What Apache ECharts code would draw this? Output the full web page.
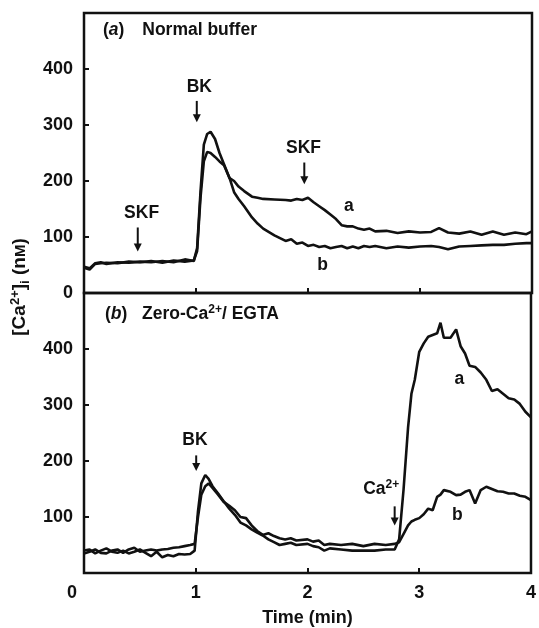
<!DOCTYPE html>
<html>
<head>
<meta charset="utf-8">
<script src="https://cdn.jsdelivr.net/npm/echarts@6/dist/echarts.min.js"></script>
<style>
  html, body { margin: 0; padding: 0; background: #fff; }
  #c { width: 539px; height: 628px; }
</style>
</head>
<body>
<div id="c"></div>
<script>
// ---------- DATA ----------
// Panel (a): Normal buffer
const topTimes = [0, 0.05, 0.1, 0.15, 0.2, 0.3, 0.4, 0.5, 0.6, 0.7, 0.8, 0.9, 0.98, 1.01, 1.04, 1.07, 1.1, 1.13, 1.17, 1.21, 1.25, 1.3, 1.34, 1.38, 1.43, 1.5, 1.55, 1.6, 1.7, 1.8, 1.85, 1.9, 1.95, 2.0, 2.05, 2.1, 2.15, 2.2, 2.25, 2.3, 2.35, 2.4, 2.45, 2.5, 2.55, 2.6, 2.7, 2.8, 2.9, 3.0, 3.1, 3.17, 3.25, 3.35, 3.45, 3.55, 3.65, 3.75, 3.85, 3.95, 4.0];
const topA = [45, 42, 52, 53, 54, 53, 56, 55, 57, 54, 58, 56, 58, 75, 170, 235, 252, 250, 243, 235, 228, 205, 200, 190, 182, 172, 170, 168, 167, 166, 165, 168, 166, 170, 162, 155, 148, 140, 132, 121, 119, 119, 115, 113, 115, 110, 111, 107, 110, 108, 109, 116, 108, 106, 110, 104, 110, 104, 108, 105, 110];
const topB = [47, 44, 53, 55, 52, 55, 54, 56, 55, 57, 55, 60, 57, 80, 180, 265, 284, 288, 275, 250, 230, 205, 180, 168, 155, 135, 124, 115, 103, 93, 96, 88, 90, 84, 86, 82, 84, 80, 82, 84, 80, 83, 80, 84, 82, 84, 80, 83, 81, 83, 84, 82, 78, 83, 84, 85, 86, 86, 88, 89, 89];

// Panel (b): Zero-Ca2+/EGTA
const botTimes = [0, 0.05, 0.1, 0.15, 0.2, 0.25, 0.3, 0.35, 0.4, 0.45, 0.5, 0.55, 0.6, 0.65, 0.7, 0.75, 0.8, 0.85, 0.9, 0.95, 0.99, 1.02, 1.05, 1.085, 1.115, 1.15, 1.2, 1.25, 1.3, 1.35, 1.4, 1.45, 1.5, 1.55, 1.6, 1.65, 1.7, 1.75, 1.8, 1.85, 1.9, 2.0, 2.05, 2.1, 2.15, 2.2, 2.3, 2.4, 2.5, 2.6, 2.7, 2.78, 2.82, 2.86, 2.9, 2.93, 2.96, 3.0, 3.04, 3.08, 3.12, 3.16, 3.19, 3.22, 3.28, 3.33, 3.37, 3.41, 3.45, 3.5, 3.55, 3.6, 3.65, 3.7, 3.75, 3.8, 3.85, 3.9, 3.95, 4.0];
const botA = [40, 42, 35, 40, 44, 38, 36, 40, 35, 38, 42, 36, 30, 38, 28, 32, 30, 34, 33, 34, 40, 110, 160, 175, 168, 155, 142, 128, 115, 104, 90, 85, 78, 72, 67, 60, 55, 50, 52, 54, 50, 52, 48, 46, 40, 44, 42, 40, 40, 40, 42, 42, 60, 150, 260, 320, 345, 395, 410, 422, 425, 428, 447, 420, 420, 435, 405, 392, 370, 368, 358, 345, 325, 328, 320, 312, 310, 302, 288, 278];
const botB = [35, 38, 42, 36, 35, 40, 42, 36, 42, 45, 38, 40, 42, 40, 42, 43, 45, 46, 48, 50, 52, 100, 140, 155, 160, 152, 140, 127, 120, 112, 100, 98, 85, 75, 68, 71, 66, 62, 60, 62, 58, 60, 56, 58, 50, 52, 50, 52, 48, 52, 50, 52, 55, 70, 85, 92, 95, 98, 105, 115, 112, 136, 140, 148, 145, 139, 140, 145, 148, 124, 148, 154, 150, 146, 145, 142, 142, 138, 136, 130];

const xTicks = [0, 1, 2, 3, 4];
const yTicks = [0, 100, 200, 300, 400];

// ---------- CHART ----------
const FONT = "'Liberation Sans', Arial, Helvetica, sans-serif";
const INK = '#111';
const zip = (t, v) => t.map((x, i) => [x, v[i]]);

const chart = echarts.init(document.getElementById('c'), null, { renderer: 'canvas' });

function xAxisCfg(grid, showLabels) {
  return {
    gridIndex: grid, type: 'value', min: 0, max: 4, interval: 1,
    axisLine: { show: false },
    axisTick: { show: true, inside: true, length: 5, lineStyle: { color: INK, width: 2 } },
    splitLine: { show: false },
    axisLabel: showLabels ? {
      show: true, margin: 11, color: INK, fontFamily: FONT, fontWeight: 'bold', fontSize: 18,
      formatter: v => xTicks.indexOf(v) < 0 ? '' : (v === 0 ? '{z|0}' : String(v)),
      rich: { z: { fontFamily: FONT, fontWeight: 'bold', fontSize: 18, color: INK, padding: [0, 24, 0, 0] } }
    } : { show: false },
    name: showLabels ? 'Time (min)' : '',
    nameLocation: 'middle', nameGap: 36,
    nameTextStyle: { color: INK, fontFamily: FONT, fontWeight: 'bold', fontSize: 18 }
  };
}
function yAxisCfg(grid, hideZero) {
  return {
    gridIndex: grid, type: 'value', min: 0, max: 500, interval: 100,
    axisLine: { show: false },
    axisTick: { show: true, inside: true, length: 5, lineStyle: { color: INK, width: 2 } },
    splitLine: { show: false },
    axisLabel: {
      margin: 11, color: INK, fontFamily: FONT, fontWeight: 'bold', fontSize: 18,
      formatter: v => (yTicks.indexOf(v) < 0 || (hideZero && v === 0)) ? '' : String(v)
    }
  };
}
function lineSeries(x, y, data) {
  return {
    type: 'line', xAxisIndex: x, yAxisIndex: y, data: data,
    showSymbol: false, symbol: 'none', smooth: false, silent: true,
    lineStyle: { color: INK, width: 2.6 }, z: 3
  };
}

chart.setOption({
  animation: false,
  backgroundColor: '#fff',
  grid: [
    { left: 84, top: 13, width: 448, height: 280, show: true, borderColor: INK, borderWidth: 2.5, backgroundColor: 'transparent' },
    { left: 84, top: 293, width: 448, height: 282, show: true, borderColor: INK, borderWidth: 2.5, backgroundColor: 'transparent' }
  ],
  xAxis: [xAxisCfg(0, false), xAxisCfg(1, true)],
  yAxis: [yAxisCfg(0, false), yAxisCfg(1, true)],
  series: [
    lineSeries(0, 0, zip(topTimes, topA)),
    lineSeries(0, 0, zip(topTimes, topB)),
    lineSeries(1, 1, zip(botTimes, botA)),
    lineSeries(1, 1, zip(botTimes, botB))
  ]
});

// ---------- ANNOTATIONS (data coordinates, converted via the axes) ----------
const textNotes = [
  // [grid, t, value, text, align]
  [0, 1.03, 368, 'BK', 'center'],
  [0, 0.514, 142, 'SKF', 'center'],
  [0, 1.96, 258, 'SKF', 'center'],
  [0, 2.365, 155, 'a', 'center'],
  [0, 2.13, 50, 'b', 'center'],
  [1, 0.993, 238, 'BK', 'center'],
  [1, 3.36, 346, 'a', 'center'],
  [1, 3.34, 104, 'b', 'center'],
  [1, 2.66, 149, '{n|Ca}{sup|2+}', 'center'],
  [0, 0.17, 469, '({i|a})', 'left'],
  [0, 0.52, 469, 'Normal buffer', 'left'],
  [1, 0.188, 462, '({i|b})', 'left'],
  [1, 0.52, 462, 'Zero-Ca{sup|2+}/ EGTA', 'left']
];
const arrowNotes = [
  // [grid, t, fromValue, toValue]
  [0, 1.007, 343, 305],
  [0, 0.48, 117, 74],
  [0, 1.967, 233, 194],
  [1, 1.004, 210, 182],
  [1, 2.78, 119, 85]
];

const richStyles = {
  n: { fontFamily: FONT, fontWeight: 'bold', fontSize: 17.5, fill: INK },
  i: { fontFamily: FONT, fontWeight: 'bold', fontStyle: 'italic', fontSize: 17.5, fill: INK },
  sup: { fontFamily: FONT, fontWeight: 'bold', fontSize: 12, fill: INK, padding: [0, 0, 9, 0] },
  sub: { fontFamily: FONT, fontWeight: 'bold', fontSize: 12, fill: INK, padding: [9, 0, 0, 0] },
  sc: { fontFamily: FONT, fontWeight: 'bold', fontSize: 14, fill: INK, padding: [2, 0, 0, 0] }
};

const graphics = [];
textNotes.forEach(n => {
  const p = chart.convertToPixel({ gridIndex: n[0] }, [n[1], n[2]]);
  graphics.push({
    type: 'text', x: p[0], y: p[1], silent: true, z: 10,
    style: {
      text: n[3], align: n[4], verticalAlign: 'middle',
      fontFamily: FONT, fontWeight: 'bold', fontSize: 17.5, fill: INK,
      rich: richStyles
    }
  });
});
arrowNotes.forEach(a => {
  const p1 = chart.convertToPixel({ gridIndex: a[0] }, [a[1], a[2]]);
  const p2 = chart.convertToPixel({ gridIndex: a[0] }, [a[1], a[3]]);
  graphics.push({
    type: 'line', silent: true, z: 10,
    shape: { x1: p1[0], y1: p1[1], x2: p2[0], y2: p2[1] - 6 },
    style: { stroke: INK, lineWidth: 2 }
  });
  graphics.push({
    type: 'polygon', silent: true, z: 10,
    shape: { points: [[p2[0] - 4, p2[1] - 8], [p2[0] + 4, p2[1] - 8], [p2[0], p2[1]]] },
    style: { fill: INK }
  });
});
// y-axis title, rotated
graphics.push({
  type: 'text', x: 20, y: 287, rotation: Math.PI / 2, silent: true, z: 10,
  style: {
    text: '[Ca{sup|2+}]{sub|i} (n{sc|M})', align: 'center', verticalAlign: 'middle',
    fontFamily: FONT, fontWeight: 'bold', fontSize: 19, fill: INK,
    rich: {
      sup: { fontFamily: FONT, fontWeight: 'bold', fontSize: 13, fill: INK, padding: [0, 0, 10, 0] },
      sub: { fontFamily: FONT, fontWeight: 'bold', fontSize: 13, fill: INK, padding: [10, 0, 0, 0] },
      sc: { fontFamily: FONT, fontWeight: 'bold', fontSize: 15, fill: INK, padding: [2, 0, 0, 0] }
    }
  }
});

chart.setOption({ graphic: graphics });
</script>
</body>
</html>
